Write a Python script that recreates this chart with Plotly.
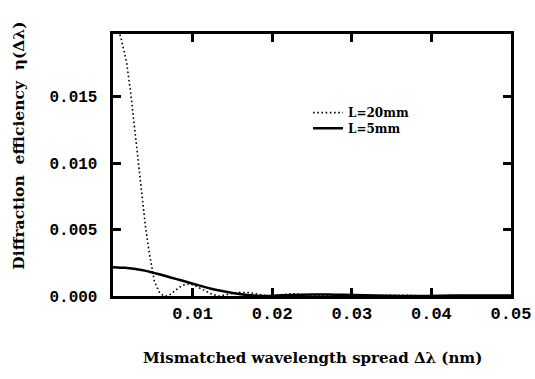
import plotly.graph_objects as go

# Mismatched wavelength spread (nm) and diffraction efficiency
x_l20 = [0.0000, 0.0005, 0.0010, 0.0017, 0.0022, 0.0027, 0.0032, 0.0036, 0.0041, 0.0046,
         0.0052, 0.0058, 0.0063, 0.0067, 0.0072, 0.0078, 0.0084, 0.0090, 0.0095, 0.0101,
         0.0108, 0.0116, 0.0125, 0.0134, 0.0142, 0.0150, 0.0158, 0.0164, 0.0171, 0.0178,
         0.0186, 0.0195, 0.0205, 0.0216, 0.0228, 0.0240, 0.0250, 0.0260, 0.0275, 0.0290,
         0.0305, 0.0325, 0.0345, 0.0358, 0.0372, 0.0390, 0.0410, 0.0422, 0.0436, 0.0455,
         0.0475, 0.0485, 0.0500]
eta_l20 = [0.0208, 0.0203, 0.0194, 0.0176, 0.0154, 0.0126, 0.0101, 0.0076, 0.0051, 0.0031,
           0.0011, 0.0003, 0.00003, 0.0, 0.00012, 0.00040, 0.00068, 0.00086, 0.0009, 0.00084,
           0.00064, 0.00036, 0.00011, 0.0, 0.00007, 0.00019, 0.00027, 0.00029, 0.00026, 0.00018,
           0.00008, 0.0, 0.00005, 0.00013, 0.00016, 0.00012, 0.00006, 0.0, 0.00006, 0.0001,
           0.00007, 0.0, 0.00005, 0.00007, 0.00005, 0.0, 0.00004, 0.00005, 0.00004, 0.0,
           0.00003, 0.00004, 0.00003]

x_l5 = [0.0, 0.0015, 0.0026, 0.0040, 0.0051, 0.0065, 0.0080, 0.0093, 0.0108, 0.0122,
        0.0137, 0.0152, 0.0166, 0.0180, 0.0190, 0.0205, 0.0225, 0.0250, 0.0270, 0.0290,
        0.0315, 0.0345, 0.0380, 0.0410, 0.0450, 0.0500]
eta_l5 = [0.00217, 0.00212, 0.00205, 0.00191, 0.00174, 0.00152, 0.00127, 0.00105, 0.00080, 0.00057,
          0.00037, 0.00020, 0.00009, 0.00002, 0.0, 0.00003, 0.00008, 0.00011, 0.00011, 0.00009,
          0.00006, 0.00002, 0.0, 0.00002, 0.00004, 0.00003]

series_names = ["L=20mm", "L=5mm"]
x_tickvals = [0.01, 0.02, 0.03, 0.04, 0.05]
x_ticktext = ["0.01", "0.02", "0.03", "0.04", "0.05"]
y_tickvals = [0.0, 0.005, 0.010, 0.015]
y_ticktext = ["0.000", "0.005", "0.010", "0.015"]
x_title = "Mismatched wavelength spread \u0394\u03bb (nm)"
y_title = "Diffraction\u00a0\u00a0efficiency\u00a0\u00a0\u03b7(\u0394\u03bb)"

serif = "DejaVu Serif"
mono = "Liberation Mono"
legend_font = dict(family=serif, size=12, color="black", weight="bold")

fig = go.Figure()
fig.add_trace(go.Scatter(
    x=x_l20, y=eta_l20, mode="lines", name=series_names[0], legend="legend",
    line=dict(color="black", width=1.6, dash="1.6px,2.6px"),
))
fig.add_trace(go.Scatter(
    x=x_l5, y=eta_l5, mode="lines", name=series_names[1], legend="legend2",
    line=dict(color="black", width=2.5, shape="spline", smoothing=0.6),
))

fig.update_layout(
    width=535, height=379,
    margin=dict(l=113, r=24, t=34, b=83),
    paper_bgcolor="white", plot_bgcolor="white",
    showlegend=True,
    legend=dict(x=0.49, y=0.70, xanchor="left", yanchor="middle",
                bgcolor="rgba(0,0,0,0)", font=legend_font),
    legend2=dict(x=0.49, y=0.64, xanchor="left", yanchor="middle",
                 bgcolor="rgba(0,0,0,0)", font=legend_font),
)

fig.update_xaxes(
    range=[0, 0.05],
    showline=True, linecolor="black", linewidth=2.5, mirror="ticks",
    ticks="inside", ticklen=8, tickwidth=2.5, tickcolor="black",
    tickvals=x_tickvals, ticktext=x_ticktext,
    tickfont=dict(family=mono, size=17, color="black", weight="bold"),
    showgrid=False, zeroline=False,
    automargin=False,
)
fig.update_yaxes(
    range=[0, 0.0197],
    showline=True, linecolor="black", linewidth=2.5, mirror="ticks",
    ticks="inside", ticklen=8, tickwidth=2.5, tickcolor="black",
    tickvals=y_tickvals, ticktext=[t + "\u00a0" for t in y_ticktext],
    tickfont=dict(family=mono, size=16, color="black", weight="bold"),
    showgrid=False, zeroline=False,
    automargin=False,
)

fig.add_annotation(
    text=x_title, xref="paper", yref="paper", x=0.5, y=-0.237,
    xanchor="center", yanchor="middle", showarrow=False,
    font=dict(family=serif, size=15, color="black", weight="bold"),
)
fig.add_annotation(
    text=y_title, xref="paper", yref="paper", x=-0.238, y=0.575,
    xanchor="center", yanchor="middle", textangle=-90, showarrow=False,
    font=dict(family=serif, size=15.5, color="black", weight="bold"),
)

fig.write_html("out.html")
